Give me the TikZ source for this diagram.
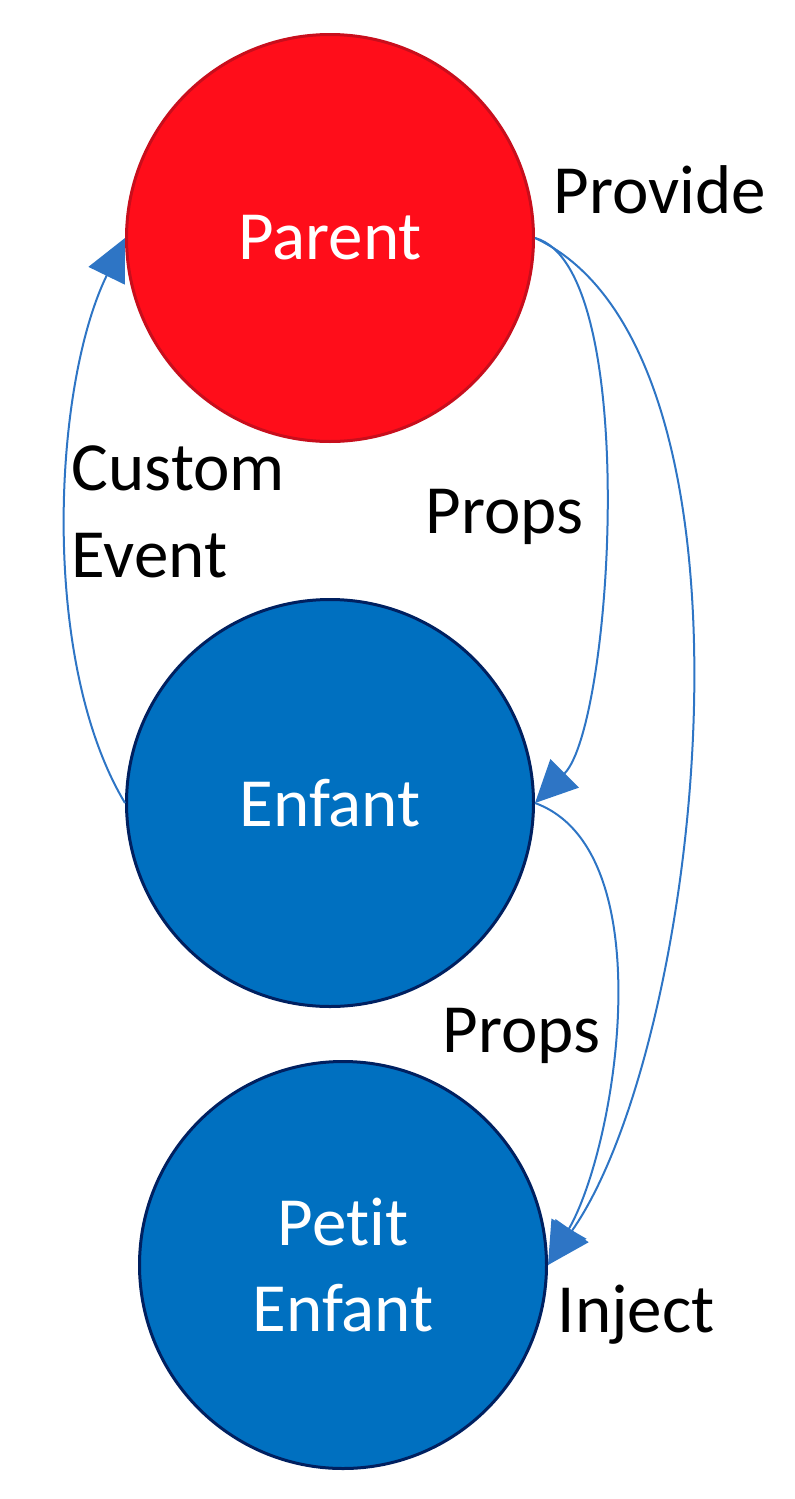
\documentclass[tikz,border=0pt]{standalone}
\usepackage{fontspec}
\setmainfont{Carlito}[Ligatures=NoCommon]
\usepackage{tikz}
\usetikzlibrary{arrows.meta}
\definecolor{parentred}{RGB}{255,13,26}
\definecolor{parentline}{RGB}{200,14,28}
\definecolor{childblue}{RGB}{0,112,192}
\definecolor{childline}{RGB}{0,32,96}
\definecolor{linkblue}{RGB}{46,117,197}

\begin{document}
\begin{tikzpicture}[x=0.25pt,y=0.25pt]

\tikzstyle{comp}=[circle, draw, line width=0.75pt, minimum size=101.75pt, inner sep=0pt,
                  text=white, align=center, font=\fontsize{17.25}{21.25}\selectfont]
\tikzstyle{txt}=[inner sep=0pt, anchor=base west, align=left, font=\fontsize{17.25}{21.75}\selectfont]
\tikzstyle{arrow}=[-{Triangle[length=10.5pt,width=10pt]}, line width=0.5pt, draw=linkblue]

\useasboundingbox (0,0) rectangle (794,-1499);

\node (parent) [comp, fill=parentred, draw=parentline] at (330,-238) {Parent};
\node (enfant) [comp, fill=childblue, draw=childline] at (330,-803) {Enfant};
\node (petit)  [comp, fill=childblue, draw=childline] at (343,-1265) {Petit\\Enfant};

\draw[arrow] (enfant.west) to[out=121, in=244, looseness=0.75] (parent.west);
\draw[arrow] (parent.east) to[out=-15, in=45, looseness=0.5] (enfant.east);
\draw[arrow] (enfant.east) to[out=-20, in=60, looseness=0.76] (petit.east);
\draw[arrow] (parent.east) to[out=-25, in=55, looseness=0.67] (petit.east);

\node (provide) [txt] at (553,-213) {Provide};
\node (props1)  [txt] at (425,-533) {Props};
\node (custom)  [txt] at (71,-577) {Custom\\Event};
\node (props2)  [txt] at (442,-1052) {Props};
\node (inject)  [txt] at (557,-1332) {Inject};
\end{tikzpicture}
\end{document}
